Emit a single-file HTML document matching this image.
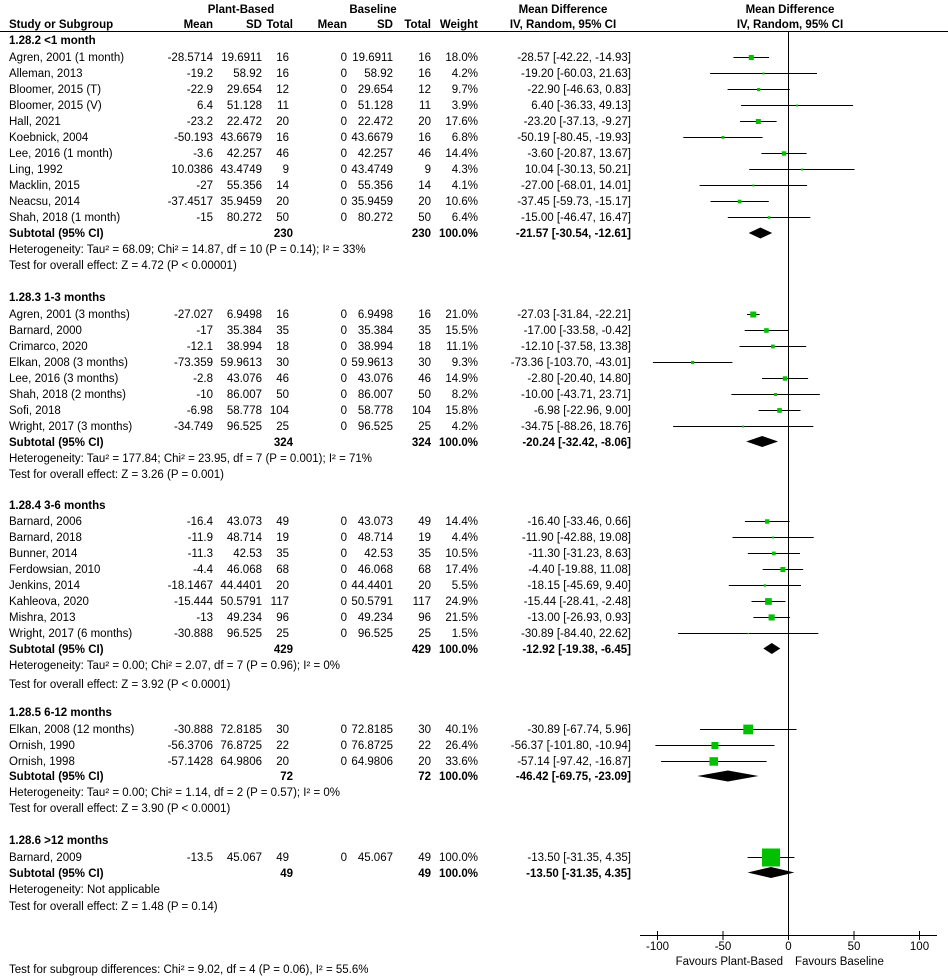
<!DOCTYPE html>
<html><head><meta charset="utf-8"><style>
html,body{margin:0;padding:0;background:#fff;}
svg{display:block;font-family:"Liberation Sans",Arial,sans-serif;font-size:11.5px;}
.b{font-weight:bold;}
.e{text-anchor:end;}
.m{text-anchor:middle;}
</style></head><body>
<svg width="948" height="976" viewBox="0 0 948 976" xmlns="http://www.w3.org/2000/svg">
<g class="b">
<text x="241" y="13" class="m">Plant-Based</text>
<text x="373" y="13" class="m">Baseline</text>
<text x="563" y="13" class="m">Mean Difference</text>
<text x="790" y="13" class="m">Mean Difference</text>
<text x="9" y="28">Study or Subgroup</text>
<text x="213" y="28" class="e">Mean</text>
<text x="262" y="28" class="e">SD</text>
<text x="293" y="28" class="e">Total</text>
<text x="347" y="28" class="e">Mean</text>
<text x="393" y="28" class="e">SD</text>
<text x="431" y="28" class="e">Total</text>
<text x="478" y="28" class="e">Weight</text>
<text x="563" y="28" class="m">IV, Random, 95% CI</text>
<text x="790" y="28" class="m">IV, Random, 95% CI</text>
</g>
<line x1="0" y1="31.5" x2="948" y2="31.5" stroke="#000" stroke-width="1"/>
<line x1="788.5" y1="31" x2="788.5" y2="935" stroke="#000" stroke-width="1"/>

<!-- Section 1 -->
<text x="9" y="44" class="b">1.28.2 &lt;1 month</text>
<g>
<text x="9" y="61">Agren, 2001 (1 month)</text><text x="213" y="61" class="e">-28.5714</text><text x="262" y="61" class="e">19.6911</text><text x="289" y="61" class="e">16</text><text x="347" y="61" class="e">0</text><text x="393" y="61" class="e">19.6911</text><text x="431" y="61" class="e">16</text><text x="478" y="61" class="e">18.0%</text><text x="631" y="61" class="e">-28.57 [-42.22, -14.93]</text>
<text x="9" y="77">Alleman, 2013</text><text x="213" y="77" class="e">-19.2</text><text x="262" y="77" class="e">58.92</text><text x="289" y="77" class="e">16</text><text x="347" y="77" class="e">0</text><text x="393" y="77" class="e">58.92</text><text x="431" y="77" class="e">16</text><text x="478" y="77" class="e">4.2%</text><text x="631" y="77" class="e">-19.20 [-60.03, 21.63]</text>
<text x="9" y="93">Bloomer, 2015 (T)</text><text x="213" y="93" class="e">-22.9</text><text x="262" y="93" class="e">29.654</text><text x="289" y="93" class="e">12</text><text x="347" y="93" class="e">0</text><text x="393" y="93" class="e">29.654</text><text x="431" y="93" class="e">12</text><text x="478" y="93" class="e">9.7%</text><text x="631" y="93" class="e">-22.90 [-46.63, 0.83]</text>
<text x="9" y="109">Bloomer, 2015 (V)</text><text x="213" y="109" class="e">6.4</text><text x="262" y="109" class="e">51.128</text><text x="289" y="109" class="e">11</text><text x="347" y="109" class="e">0</text><text x="393" y="109" class="e">51.128</text><text x="431" y="109" class="e">11</text><text x="478" y="109" class="e">3.9%</text><text x="631" y="109" class="e">6.40 [-36.33, 49.13]</text>
<text x="9" y="125">Hall, 2021</text><text x="213" y="125" class="e">-23.2</text><text x="262" y="125" class="e">22.472</text><text x="289" y="125" class="e">20</text><text x="347" y="125" class="e">0</text><text x="393" y="125" class="e">22.472</text><text x="431" y="125" class="e">20</text><text x="478" y="125" class="e">17.6%</text><text x="631" y="125" class="e">-23.20 [-37.13, -9.27]</text>
<text x="9" y="141">Koebnick, 2004</text><text x="213" y="141" class="e">-50.193</text><text x="262" y="141" class="e">43.6679</text><text x="289" y="141" class="e">16</text><text x="347" y="141" class="e">0</text><text x="393" y="141" class="e">43.6679</text><text x="431" y="141" class="e">16</text><text x="478" y="141" class="e">6.8%</text><text x="631" y="141" class="e">-50.19 [-80.45, -19.93]</text>
<text x="9" y="157">Lee, 2016 (1 month)</text><text x="213" y="157" class="e">-3.6</text><text x="262" y="157" class="e">42.257</text><text x="289" y="157" class="e">46</text><text x="347" y="157" class="e">0</text><text x="393" y="157" class="e">42.257</text><text x="431" y="157" class="e">46</text><text x="478" y="157" class="e">14.4%</text><text x="631" y="157" class="e">-3.60 [-20.87, 13.67]</text>
<text x="9" y="173">Ling, 1992</text><text x="213" y="173" class="e">10.0386</text><text x="262" y="173" class="e">43.4749</text><text x="289" y="173" class="e">9</text><text x="347" y="173" class="e">0</text><text x="393" y="173" class="e">43.4749</text><text x="431" y="173" class="e">9</text><text x="478" y="173" class="e">4.3%</text><text x="631" y="173" class="e">10.04 [-30.13, 50.21]</text>
<text x="9" y="189">Macklin, 2015</text><text x="213" y="189" class="e">-27</text><text x="262" y="189" class="e">55.356</text><text x="289" y="189" class="e">14</text><text x="347" y="189" class="e">0</text><text x="393" y="189" class="e">55.356</text><text x="431" y="189" class="e">14</text><text x="478" y="189" class="e">4.1%</text><text x="631" y="189" class="e">-27.00 [-68.01, 14.01]</text>
<text x="9" y="205">Neacsu, 2014</text><text x="213" y="205" class="e">-37.4517</text><text x="262" y="205" class="e">35.9459</text><text x="289" y="205" class="e">20</text><text x="347" y="205" class="e">0</text><text x="393" y="205" class="e">35.9459</text><text x="431" y="205" class="e">20</text><text x="478" y="205" class="e">10.6%</text><text x="631" y="205" class="e">-37.45 [-59.73, -15.17]</text>
<text x="9" y="221">Shah, 2018 (1 month)</text><text x="213" y="221" class="e">-15</text><text x="262" y="221" class="e">80.272</text><text x="289" y="221" class="e">50</text><text x="347" y="221" class="e">0</text><text x="393" y="221" class="e">80.272</text><text x="431" y="221" class="e">50</text><text x="478" y="221" class="e">6.4%</text><text x="631" y="221" class="e">-15.00 [-46.47, 16.47]</text>
<g class="b"><text x="9" y="237">Subtotal (95% CI)</text><text x="293" y="237" class="e">230</text><text x="431" y="237" class="e">230</text><text x="478" y="237" class="e">100.0%</text><text x="631" y="237" class="e">-21.57 [-30.54, -12.61]</text></g>
<text x="9" y="253">Heterogeneity: Tau² = 68.09; Chi² = 14.87, df = 10 (P = 0.14); I² = 33%</text>
<text x="9" y="269">Test for overall effect: Z = 4.72 (P &lt; 0.00001)</text>
</g>

<!-- Section 2 -->
<text x="9" y="301" class="b">1.28.3 1-3 months</text>
<text x="9" y="318">Agren, 2001 (3 months)</text><text x="213" y="318" class="e">-27.027</text><text x="262" y="318" class="e">6.9498</text><text x="289" y="318" class="e">16</text><text x="347" y="318" class="e">0</text><text x="393" y="318" class="e">6.9498</text><text x="431" y="318" class="e">16</text><text x="478" y="318" class="e">21.0%</text><text x="631" y="318" class="e">-27.03 [-31.84, -22.21]</text>
<text x="9" y="334">Barnard, 2000</text><text x="213" y="334" class="e">-17</text><text x="262" y="334" class="e">35.384</text><text x="289" y="334" class="e">35</text><text x="347" y="334" class="e">0</text><text x="393" y="334" class="e">35.384</text><text x="431" y="334" class="e">35</text><text x="478" y="334" class="e">15.5%</text><text x="631" y="334" class="e">-17.00 [-33.58, -0.42]</text>
<text x="9" y="350">Crimarco, 2020</text><text x="213" y="350" class="e">-12.1</text><text x="262" y="350" class="e">38.994</text><text x="289" y="350" class="e">18</text><text x="347" y="350" class="e">0</text><text x="393" y="350" class="e">38.994</text><text x="431" y="350" class="e">18</text><text x="478" y="350" class="e">11.1%</text><text x="631" y="350" class="e">-12.10 [-37.58, 13.38]</text>
<text x="9" y="366">Elkan, 2008 (3 months)</text><text x="213" y="366" class="e">-73.359</text><text x="262" y="366" class="e">59.9613</text><text x="289" y="366" class="e">30</text><text x="347" y="366" class="e">0</text><text x="393" y="366" class="e">59.9613</text><text x="431" y="366" class="e">30</text><text x="478" y="366" class="e">9.3%</text><text x="631" y="366" class="e">-73.36 [-103.70, -43.01]</text>
<text x="9" y="382">Lee, 2016 (3 months)</text><text x="213" y="382" class="e">-2.8</text><text x="262" y="382" class="e">43.076</text><text x="289" y="382" class="e">46</text><text x="347" y="382" class="e">0</text><text x="393" y="382" class="e">43.076</text><text x="431" y="382" class="e">46</text><text x="478" y="382" class="e">14.9%</text><text x="631" y="382" class="e">-2.80 [-20.40, 14.80]</text>
<text x="9" y="398">Shah, 2018 (2 months)</text><text x="213" y="398" class="e">-10</text><text x="262" y="398" class="e">86.007</text><text x="289" y="398" class="e">50</text><text x="347" y="398" class="e">0</text><text x="393" y="398" class="e">86.007</text><text x="431" y="398" class="e">50</text><text x="478" y="398" class="e">8.2%</text><text x="631" y="398" class="e">-10.00 [-43.71, 23.71]</text>
<text x="9" y="414">Sofi, 2018</text><text x="213" y="414" class="e">-6.98</text><text x="262" y="414" class="e">58.778</text><text x="289" y="414" class="e">104</text><text x="347" y="414" class="e">0</text><text x="393" y="414" class="e">58.778</text><text x="431" y="414" class="e">104</text><text x="478" y="414" class="e">15.8%</text><text x="631" y="414" class="e">-6.98 [-22.96, 9.00]</text>
<text x="9" y="430">Wright, 2017 (3 months)</text><text x="213" y="430" class="e">-34.749</text><text x="262" y="430" class="e">96.525</text><text x="289" y="430" class="e">25</text><text x="347" y="430" class="e">0</text><text x="393" y="430" class="e">96.525</text><text x="431" y="430" class="e">25</text><text x="478" y="430" class="e">4.2%</text><text x="631" y="430" class="e">-34.75 [-88.26, 18.76]</text>
<g class="b"><text x="9" y="446">Subtotal (95% CI)</text><text x="293" y="446" class="e">324</text><text x="431" y="446" class="e">324</text><text x="478" y="446" class="e">100.0%</text><text x="631" y="446" class="e">-20.24 [-32.42, -8.06]</text></g>
<text x="9" y="462">Heterogeneity: Tau² = 177.84; Chi² = 23.95, df = 7 (P = 0.001); I² = 71%</text>
<text x="9" y="478">Test for overall effect: Z = 3.26 (P = 0.001)</text>

<!-- Section 3 -->
<text x="9" y="509" class="b">1.28.4 3-6 months</text>
<text x="9" y="525">Barnard, 2006</text><text x="213" y="525" class="e">-16.4</text><text x="262" y="525" class="e">43.073</text><text x="289" y="525" class="e">49</text><text x="347" y="525" class="e">0</text><text x="393" y="525" class="e">43.073</text><text x="431" y="525" class="e">49</text><text x="478" y="525" class="e">14.4%</text><text x="631" y="525" class="e">-16.40 [-33.46, 0.66]</text>
<text x="9" y="541">Barnard, 2018</text><text x="213" y="541" class="e">-11.9</text><text x="262" y="541" class="e">48.714</text><text x="289" y="541" class="e">19</text><text x="347" y="541" class="e">0</text><text x="393" y="541" class="e">48.714</text><text x="431" y="541" class="e">19</text><text x="478" y="541" class="e">4.4%</text><text x="631" y="541" class="e">-11.90 [-42.88, 19.08]</text>
<text x="9" y="557">Bunner, 2014</text><text x="213" y="557" class="e">-11.3</text><text x="262" y="557" class="e">42.53</text><text x="289" y="557" class="e">35</text><text x="347" y="557" class="e">0</text><text x="393" y="557" class="e">42.53</text><text x="431" y="557" class="e">35</text><text x="478" y="557" class="e">10.5%</text><text x="631" y="557" class="e">-11.30 [-31.23, 8.63]</text>
<text x="9" y="573">Ferdowsian, 2010</text><text x="213" y="573" class="e">-4.4</text><text x="262" y="573" class="e">46.068</text><text x="289" y="573" class="e">68</text><text x="347" y="573" class="e">0</text><text x="393" y="573" class="e">46.068</text><text x="431" y="573" class="e">68</text><text x="478" y="573" class="e">17.4%</text><text x="631" y="573" class="e">-4.40 [-19.88, 11.08]</text>
<text x="9" y="589">Jenkins, 2014</text><text x="213" y="589" class="e">-18.1467</text><text x="262" y="589" class="e">44.4401</text><text x="289" y="589" class="e">20</text><text x="347" y="589" class="e">0</text><text x="393" y="589" class="e">44.4401</text><text x="431" y="589" class="e">20</text><text x="478" y="589" class="e">5.5%</text><text x="631" y="589" class="e">-18.15 [-45.69, 9.40]</text>
<text x="9" y="605">Kahleova, 2020</text><text x="213" y="605" class="e">-15.444</text><text x="262" y="605" class="e">50.5791</text><text x="289" y="605" class="e">117</text><text x="347" y="605" class="e">0</text><text x="393" y="605" class="e">50.5791</text><text x="431" y="605" class="e">117</text><text x="478" y="605" class="e">24.9%</text><text x="631" y="605" class="e">-15.44 [-28.41, -2.48]</text>
<text x="9" y="621">Mishra, 2013</text><text x="213" y="621" class="e">-13</text><text x="262" y="621" class="e">49.234</text><text x="289" y="621" class="e">96</text><text x="347" y="621" class="e">0</text><text x="393" y="621" class="e">49.234</text><text x="431" y="621" class="e">96</text><text x="478" y="621" class="e">21.5%</text><text x="631" y="621" class="e">-13.00 [-26.93, 0.93]</text>
<text x="9" y="637">Wright, 2017 (6 months)</text><text x="213" y="637" class="e">-30.888</text><text x="262" y="637" class="e">96.525</text><text x="289" y="637" class="e">25</text><text x="347" y="637" class="e">0</text><text x="393" y="637" class="e">96.525</text><text x="431" y="637" class="e">25</text><text x="478" y="637" class="e">1.5%</text><text x="631" y="637" class="e">-30.89 [-84.40, 22.62]</text>
<g class="b"><text x="9" y="653">Subtotal (95% CI)</text><text x="293" y="653" class="e">429</text><text x="431" y="653" class="e">429</text><text x="478" y="653" class="e">100.0%</text><text x="631" y="653" class="e">-12.92 [-19.38, -6.45]</text></g>
<text x="9" y="669">Heterogeneity: Tau² = 0.00; Chi² = 2.07, df = 7 (P = 0.96); I² = 0%</text>
<text x="9" y="688">Test for overall effect: Z = 3.92 (P &lt; 0.0001)</text>

<!-- Section 4 -->
<text x="9" y="716" class="b">1.28.5 6-12 months</text>
<text x="9" y="733">Elkan, 2008 (12 months)</text><text x="213" y="733" class="e">-30.888</text><text x="262" y="733" class="e">72.8185</text><text x="289" y="733" class="e">30</text><text x="347" y="733" class="e">0</text><text x="393" y="733" class="e">72.8185</text><text x="431" y="733" class="e">30</text><text x="478" y="733" class="e">40.1%</text><text x="631" y="733" class="e">-30.89 [-67.74, 5.96]</text>
<text x="9" y="749">Ornish, 1990</text><text x="213" y="749" class="e">-56.3706</text><text x="262" y="749" class="e">76.8725</text><text x="289" y="749" class="e">22</text><text x="347" y="749" class="e">0</text><text x="393" y="749" class="e">76.8725</text><text x="431" y="749" class="e">22</text><text x="478" y="749" class="e">26.4%</text><text x="631" y="749" class="e">-56.37 [-101.80, -10.94]</text>
<text x="9" y="765">Ornish, 1998</text><text x="213" y="765" class="e">-57.1428</text><text x="262" y="765" class="e">64.9806</text><text x="289" y="765" class="e">20</text><text x="347" y="765" class="e">0</text><text x="393" y="765" class="e">64.9806</text><text x="431" y="765" class="e">20</text><text x="478" y="765" class="e">33.6%</text><text x="631" y="765" class="e">-57.14 [-97.42, -16.87]</text>
<g class="b"><text x="9" y="780">Subtotal (95% CI)</text><text x="293" y="780" class="e">72</text><text x="431" y="780" class="e">72</text><text x="478" y="780" class="e">100.0%</text><text x="631" y="780" class="e">-46.42 [-69.75, -23.09]</text></g>
<text x="9" y="796">Heterogeneity: Tau² = 0.00; Chi² = 1.14, df = 2 (P = 0.57); I² = 0%</text>
<text x="9" y="812">Test for overall effect: Z = 3.90 (P &lt; 0.0001)</text>

<!-- Section 5 -->
<text x="9" y="844" class="b">1.28.6 &gt;12 months</text>
<text x="9" y="861">Barnard, 2009</text><text x="213" y="861" class="e">-13.5</text><text x="262" y="861" class="e">45.067</text><text x="289" y="861" class="e">49</text><text x="347" y="861" class="e">0</text><text x="393" y="861" class="e">45.067</text><text x="431" y="861" class="e">49</text><text x="478" y="861" class="e">100.0%</text><text x="631" y="861" class="e">-13.50 [-31.35, 4.35]</text>
<g class="b"><text x="9" y="877">Subtotal (95% CI)</text><text x="293" y="877" class="e">49</text><text x="431" y="877" class="e">49</text><text x="478" y="877" class="e">100.0%</text><text x="631" y="877" class="e">-13.50 [-31.35, 4.35]</text></g>
<text x="9" y="893">Heterogeneity: Not applicable</text>
<text x="9" y="910">Test for overall effect: Z = 1.48 (P = 0.14)</text>

<text x="9" y="973">Test for subgroup differences: Chi² = 9.02, df = 4 (P = 0.06), I² = 55.6%</text>

<!-- CI lines -->
<g stroke="#000" stroke-width="1">
<line x1="733.4" y1="57.5" x2="769.1" y2="57.5"/>
<line x1="710.1" y1="73.5" x2="817.0" y2="73.5"/>
<line x1="727.6" y1="89.5" x2="789.8" y2="89.5"/>
<line x1="741.1" y1="105.5" x2="853.1" y2="105.5"/>
<line x1="740.1" y1="121.5" x2="776.6" y2="121.5"/>
<line x1="683.3" y1="137.5" x2="762.6" y2="137.5"/>
<line x1="761.4" y1="153.5" x2="806.6" y2="153.5"/>
<line x1="749.2" y1="169.5" x2="854.5" y2="169.5"/>
<line x1="699.6" y1="185.5" x2="807.1" y2="185.5"/>
<line x1="710.5" y1="201.5" x2="768.8" y2="201.5"/>
<line x1="727.8" y1="217.5" x2="810.3" y2="217.5"/>

<line x1="747.0" y1="314.5" x2="759.6" y2="314.5"/>
<line x1="744.7" y1="330.5" x2="788.2" y2="330.5"/>
<line x1="739.5" y1="346.5" x2="806.2" y2="346.5"/>
<line x1="652.9" y1="362.5" x2="732.4" y2="362.5"/>
<line x1="762.0" y1="378.5" x2="808.1" y2="378.5"/>
<line x1="731.4" y1="394.5" x2="819.8" y2="394.5"/>
<line x1="758.6" y1="410.5" x2="800.5" y2="410.5"/>
<line x1="673.1" y1="426.5" x2="813.3" y2="426.5"/>

<line x1="744.9" y1="521.5" x2="789.6" y2="521.5"/>
<line x1="732.5" y1="537.5" x2="813.7" y2="537.5"/>
<line x1="747.8" y1="553.5" x2="800.0" y2="553.5"/>
<line x1="762.7" y1="569.5" x2="803.2" y2="569.5"/>
<line x1="728.8" y1="585.5" x2="801.0" y2="585.5"/>
<line x1="751.5" y1="601.5" x2="785.5" y2="601.5"/>
<line x1="753.4" y1="617.5" x2="789.9" y2="617.5"/>
<line x1="678.1" y1="633.5" x2="818.3" y2="633.5"/>

<line x1="700.0" y1="729.5" x2="796.5" y2="729.5"/>
<line x1="655.4" y1="745.5" x2="774.4" y2="745.5"/>
<line x1="661.1" y1="761.5" x2="766.6" y2="761.5"/>

<line x1="747.6" y1="857.5" x2="794.4" y2="857.5"/>
</g>

<!-- squares -->
<g fill="#00c000">
<rect x="748.8" y="55" width="5" height="5"/>
<rect x="762.5" y="72.5" width="2" height="2"/>
<rect x="757.1" y="88" width="3.2" height="3.2"/>
<rect x="796.1" y="104.5" width="2" height="2"/>
<rect x="755.8" y="119" width="5" height="5"/>
<rect x="721.5" y="136" width="2.8" height="2.8"/>
<rect x="781.8" y="151.3" width="4.4" height="4.4"/>
<rect x="800.9" y="168.5" width="2" height="2"/>
<rect x="752.3" y="184.5" width="2" height="2"/>
<rect x="737.8" y="199.7" width="3.7" height="3.7"/>
<rect x="767.7" y="216.2" width="2.6" height="2.6"/>

<rect x="750.3" y="311.5" width="6" height="6"/>
<rect x="764.1" y="328.2" width="4.6" height="4.6"/>
<rect x="771.0" y="344.6" width="3.8" height="3.8"/>
<rect x="691.0" y="360.9" width="3.2" height="3.2"/>
<rect x="782.8" y="376.3" width="4.4" height="4.4"/>
<rect x="774.1" y="393" width="3" height="3"/>
<rect x="777.2" y="408.1" width="4.7" height="4.7"/>
<rect x="742.2" y="425.5" width="2" height="2"/>

<rect x="765.0" y="519.3" width="4.4" height="4.4"/>
<rect x="772.1" y="536.5" width="2" height="2"/>
<rect x="772.0" y="551.6" width="3.7" height="3.7"/>
<rect x="780.4" y="567" width="5" height="5"/>
<rect x="763.7" y="584.3" width="2.4" height="2.4"/>
<rect x="765.1" y="598.1" width="6.7" height="6.7"/>
<rect x="768.6" y="614.4" width="6.1" height="6.1"/>
<rect x="747.7" y="633" width="1.2" height="1.2"/>

<rect x="743.3" y="724.6" width="9.7" height="9.7"/>
<rect x="711.4" y="742" width="7" height="7"/>
<rect x="709.5" y="757.2" width="8.5" height="8.5"/>

<rect x="762" y="848.5" width="18" height="18"/>
</g>

<!-- diamonds -->
<g fill="#000">
<polygon points="748.7,233 760.4,227.5 772.2,233 760.4,238.5"/>
<polygon points="746.2,441.5 762.2,436 778.1,441.5 762.2,447"/>
<polygon points="763.3,648.5 771.8,643 780.3,648.5 771.8,654"/>
<polygon points="697.3,776 727.9,770.5 758.5,776 727.9,781.5"/>
<polygon points="747.6,872.5 771.0,867 794.4,872.5 771.0,878"/>
</g>

<!-- axis -->
<g stroke="#000" stroke-width="1">
<line x1="640" y1="935.5" x2="937" y2="935.5"/>
<line x1="657.5" y1="931" x2="657.5" y2="940"/>
<line x1="723" y1="931" x2="723" y2="940"/>
<line x1="788.5" y1="931" x2="788.5" y2="940"/>
<line x1="854" y1="931" x2="854" y2="940"/>
<line x1="919.5" y1="931" x2="919.5" y2="940"/>
</g>
<g class="m">
<text x="657.5" y="950">-100</text>
<text x="723" y="950">-50</text>
<text x="788.5" y="950">0</text>
<text x="854" y="950">50</text>
<text x="919.5" y="950">100</text>
</g>
<text x="783" y="965" class="e">Favours Plant-Based</text>
<text x="795" y="965">Favours Baseline</text>
</svg>
</body></html>
